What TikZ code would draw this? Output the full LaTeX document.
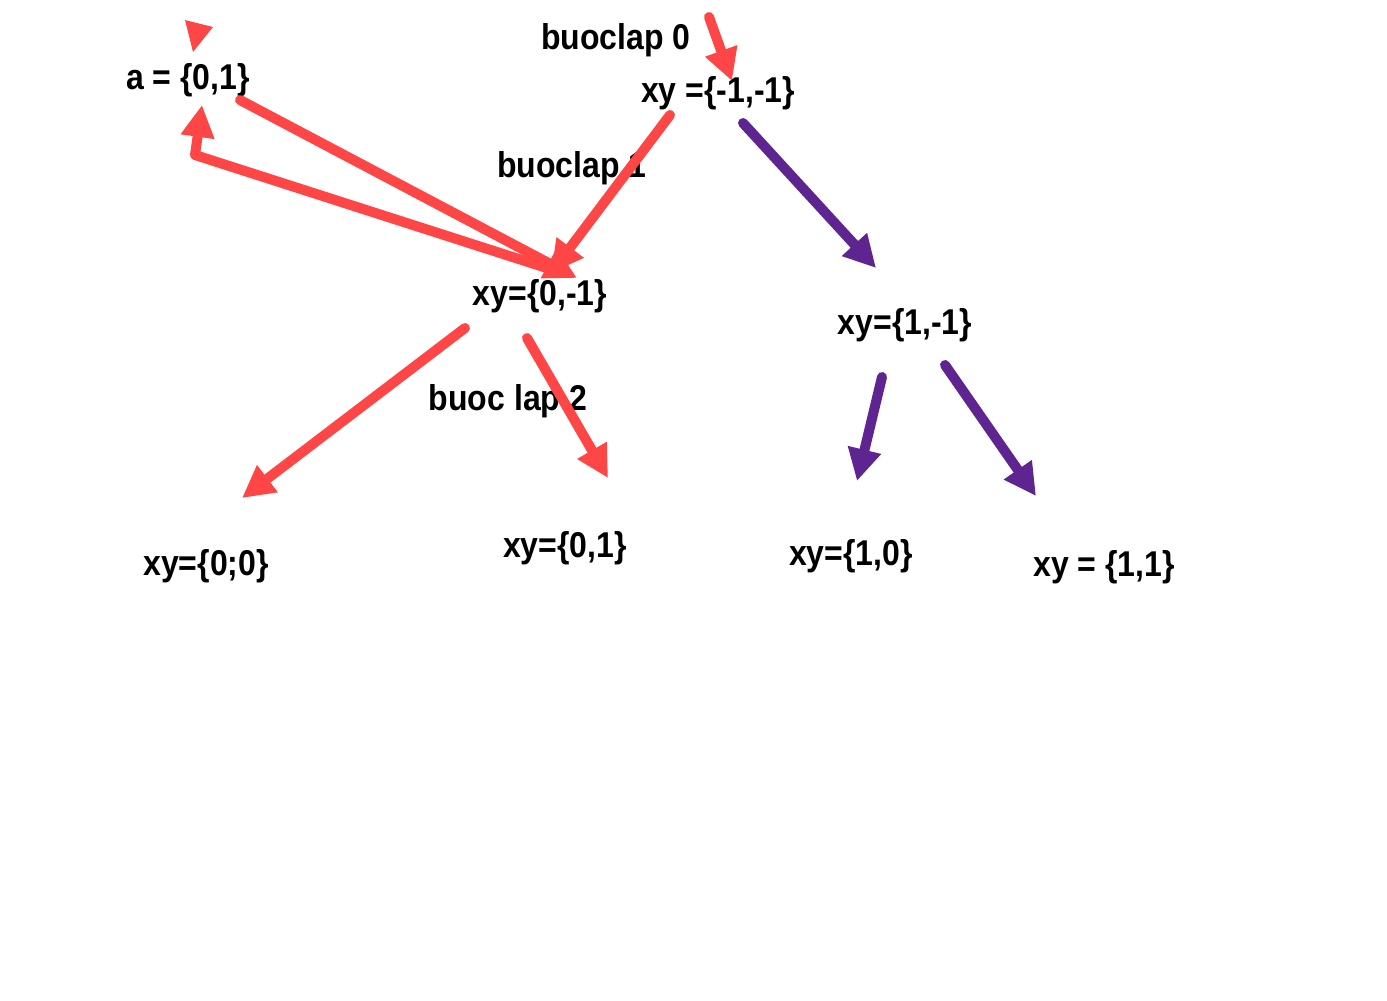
\documentclass[tikz,border=0pt]{standalone}
\usepackage{fontspec}
\setmainfont{Liberation Sans}
\usetikzlibrary{arrows.meta, positioning, calc}
\definecolor{redarrow}{HTML}{FF4646}
\definecolor{purplearrow}{HTML}{5E2590}
\newcommand{\tall}[1]{\scalebox{1}[1.12]{#1}}

\begin{document}
\begin{tikzpicture}[x=0.75pt, y=-0.75pt,
    lbl/.style={font=\fontsize{24}{28}\selectfont\bfseries, inner sep=0pt},
    arr/.style={line width=7.5pt, line cap=round, line join=round,
        -{Triangle[length=24pt, width=24pt]}},
    redarr/.style={arr, draw=redarrow},
    purplearr/.style={arr, draw=purplearrow}]
    \useasboundingbox (0,0) rectangle (1387,1000);

    \node[lbl] (a01) at (188,80) {\tall{a = \{0,1\}}};
    \node[lbl] (lab0) at (616,40) {\tall{buoclap 0}};
    \node[lbl] (root) at (718,93) {\tall{xy =\{-1,-1\}}};
    \node[lbl] (lab1) at (572,168) {\tall{buoclap 1}};
    \node[lbl] (n0m1) at (540,296) {\tall{xy=\{0,-1\}}};
    \node[lbl] (n1m1) at (905,325) {\tall{xy=\{1,-1\}}};
    \node[lbl] (lab2) at (508,401) {\tall{buoc lap 2}};
    \node[lbl] (n00) at (206,566) {\tall{xy=\{0;0\}}};
    \node[lbl] (n01) at (565,548) {\tall{xy=\{0,1\}}};
    \node[lbl] (n10) at (851,556) {\tall{xy=\{1,0\}}};
    \node[lbl] (n11) at (1104,567) {\tall{xy = \{1,1\}}};

    % arrow ends
    \coordinate (s0) at (709,17);   \coordinate (t0) at (732,81);
    \coordinate (s1) at (670,115);  \coordinate (t1) at (551,273);
    \coordinate (s2) at (240,100);  \coordinate (t2) at (577,278);
    \coordinate (s3) at (553,270);  \coordinate (k3) at (195,155);
    \coordinate (t3) at (202,105);
    \coordinate (s4) at (465,328);  \coordinate (t4) at (242,498);
    \coordinate (s5) at (527,338);  \coordinate (t5) at (608,478);
    \coordinate (s6) at (743,123);  \coordinate (t6) at (876,268);
    \coordinate (s7) at (882,377);  \coordinate (t7) at (857,481);
    \coordinate (s8) at (945,365);  \coordinate (t8) at (1036,496);

    \draw[redarr] (s0) -- (t0);
    \draw[redarr] (s1) -- (t1);
    \draw[redarr] (s2) -- (t2);
    \draw[redarr] (s3) -- (k3) -- (t3);
    \draw[redarr] (s4) -- (t4);
    \draw[redarr] (s5) -- (t5);
    \fill[redarrow] (185,20) -- (213,27) -- (193,52) -- cycle;

    \draw[purplearr] (s6) -- (t6);
    \draw[purplearr] (s7) -- (t7);
    \draw[purplearr] (s8) -- (t8);
\end{tikzpicture}
\end{document}
